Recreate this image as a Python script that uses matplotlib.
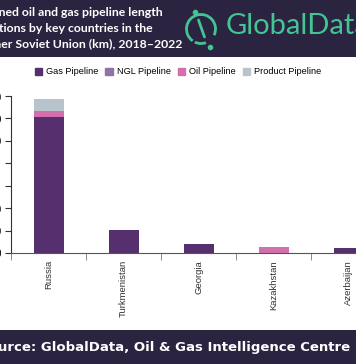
import numpy as np
import matplotlib
matplotlib.use("Agg")
import matplotlib.pyplot as plt
from matplotlib.patches import Rectangle, Arc, Patch

countries = ["Russia", "Turkmenistan", "Georgia", "Kazakhstan", "Azerbaijan"]
gas = [6050, 1020, 400, 0, 230]
ngl = [0, 0, 0, 0, 0]
oil = [300, 0, 0, 300, 0]
product = [510, 0, 0, 0, 0]
yticks = [0, 1000, 2000, 3000, 4000, 5000, 6000, 7000]

title_lines = ["Planned oil and gas pipeline length",
               "additions by key countries in the",
               "former Soviet Union (km), 2018\u20132022"]
source = "Source: GlobalData, Oil & Gas Intelligence Centre"

colors = {"Gas Pipeline": "#56306e", "NGL Pipeline": "#8e74a6",
          "Oil Pipeline": "#d46fae", "Product Pipeline": "#b9c3cb"}
dark = "#2a2440"
green = "#43c495"

W, H = 356, 364
fig = plt.figure(figsize=(W / 100, H / 100), dpi=100)
plt.rcParams['font.family'] = ['Liberation Sans', 'DejaVu Sans']

def fx(px):
    return px / W

def fy(py):
    return 1 - py / H

# overlay in pixel coords for header, footer and logo
over = fig.add_axes([0, 0, 1, 1], facecolor="none", zorder=-1)
over.set_xlim(0, W)
over.set_ylim(H, 0)
over.axis("off")
over.add_patch(Rectangle((0, 0), W, 57, color=dark, lw=0))
over.add_patch(Rectangle((0, 330), W, H - 330, color=dark, lw=0))

for line, xr, yc in zip(title_lines, [163, 153, 182], [12, 28, 44]):
    over.text(xr, yc, line, color="white", ha="right", va="center",
              fontsize=8.8, family="Lato", fontweight="bold")

over.text(350, 347, source, color="white", ha="right", va="center",
          fontsize=9.5, family="DejaVu Sans", fontweight="bold")

# logo
over.add_patch(Arc((201, 29), 29, 29, theta1=-235, theta2=25, color=green, lw=2))
over.add_patch(Arc((201, 29), 29, 29, theta1=70, theta2=115, color=green, lw=2))
over.plot([198.5, 204.5], [20, 37], color=green, lw=2, solid_capstyle="round")
over.plot([195, 210], [11.5, 46.5], "o", color=green, ms=3)
over.text(226, 34.5, "GlobalData", color=green, fontsize=21, family="Lato",
          va="baseline", ha="left")

# chart
ax = fig.add_axes([fx(11), fy(253.3), 375 / W, (253.3 - 96) / H])
x = np.arange(len(countries))
bottom = np.zeros(len(countries))
for name, vals in zip(colors, [gas, ngl, oil, product]):
    ax.bar(x, vals, 0.4, bottom=bottom, color=colors[name], label=name)
    bottom += np.array(vals)

ax.set_xlim(-0.5, len(countries) - 0.5)
ax.set_ylim(0, 7000)
ax.set_yticks(yticks)
ax.set_yticklabels([f"{v:,}" for v in yticks], fontsize=7)
ax.set_xticks(x)
ax.set_xticklabels(countries, rotation=90, fontsize=6.8, color="#333333")
ax.set_xticks(np.arange(len(countries) + 1) - 0.5, minor=True)
ax.tick_params(axis="x", which="major", length=0, pad=5)
ax.tick_params(axis="x", which="minor", length=5, color="#777777")
ax.tick_params(axis="y", length=4, pad=3, color="#333333")
for s in ["top", "right"]:
    ax.spines[s].set_visible(False)
ax.spines["left"].set_color("#333333")
ax.spines["bottom"].set_color("#555555")

handles = [Patch(color=c) for c in colors.values()]
fig.legend(handles, list(colors), loc="center", bbox_to_anchor=(fx(178), fy(72)),
           ncol=4, frameon=False, fontsize=6.6, handlelength=0.8, handleheight=0.8,
           handletextpad=0.45, columnspacing=0.75, borderpad=0)

fig.savefig("out.png", dpi=100)
